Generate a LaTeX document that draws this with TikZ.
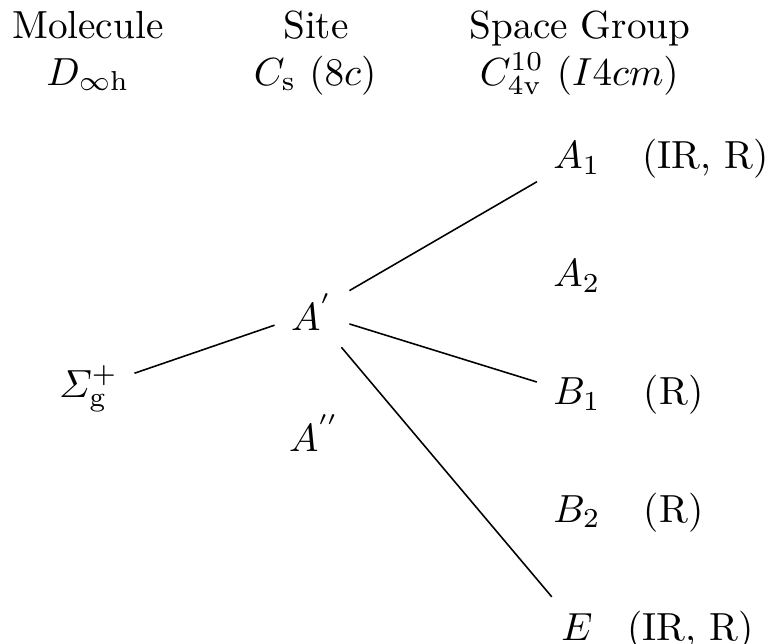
\documentclass[tikz,border=0pt]{standalone}
\usepackage{amsmath}
\begin{document}
\begin{tikzpicture}[x=1pt,y=-1pt,
  lbl/.style={anchor=base,inner sep=0pt},
  sym/.style={anchor=base,inner sep=4pt},
  note/.style={anchor=base west,inner sep=0pt},
  conn/.style={draw,line width=0.4pt}]
\useasboundingbox (0,0) rectangle (196.2,164.3);
% headers
\node[lbl] (h1)  at (22.4,9.7)  {Molecule};
\node[lbl] (h1b) at (22.4,21.7) {$D_{\infty\mathrm{h}}$};
\node[lbl] (h2)  at (80.6,9.7)  {Site};
\node[lbl] (h2b) at (80.4,21.7) {$C_\mathrm{s}$ $(8c)$};
\node[lbl] (h3)  at (148,9.7)   {Space Group};
\node[lbl] (h3b) at (147.8,21.7) {$C_{4\mathrm{v}}^{10}$ $(I4cm)$};
% species
\node[sym] (S)   at (22.6,101.3) {$\varSigma_\mathrm{g}^{+}$};
\node[sym] (Ap)  at (79.6,84.4)  {$A^{'}$};
\node[sym] (App) at (80.2,115.3) {$A^{''}$};
\node[sym] (A1)  at (147.2,43.1) {$A_1$};
\node[sym] (A2)  at (147.2,73.2) {$A_2$};
\node[sym] (B1)  at (147.2,103.3) {$B_1$};
\node[sym] (B2)  at (147.2,133.2) {$B_2$};
\node[sym] (E)   at (147.2,163.3) {$E$};
% activity labels
\node[note] (A1l) at (163.6,43.1)  {(IR, R)};
\node[note] (B1l) at (164.1,103.3) {(R)};
\node[note] (B2l) at (164.1,133.2) {(R)};
\node[note] (El)  at (159.8,163.3) {(IR, R)};
% correlation lines
\path[conn] (S) -- (Ap);
\path[conn] (Ap) -- (A1);
\path[conn] (Ap) -- (B1);
\path[conn] (Ap) -- (E);
\end{tikzpicture}
\end{document}
